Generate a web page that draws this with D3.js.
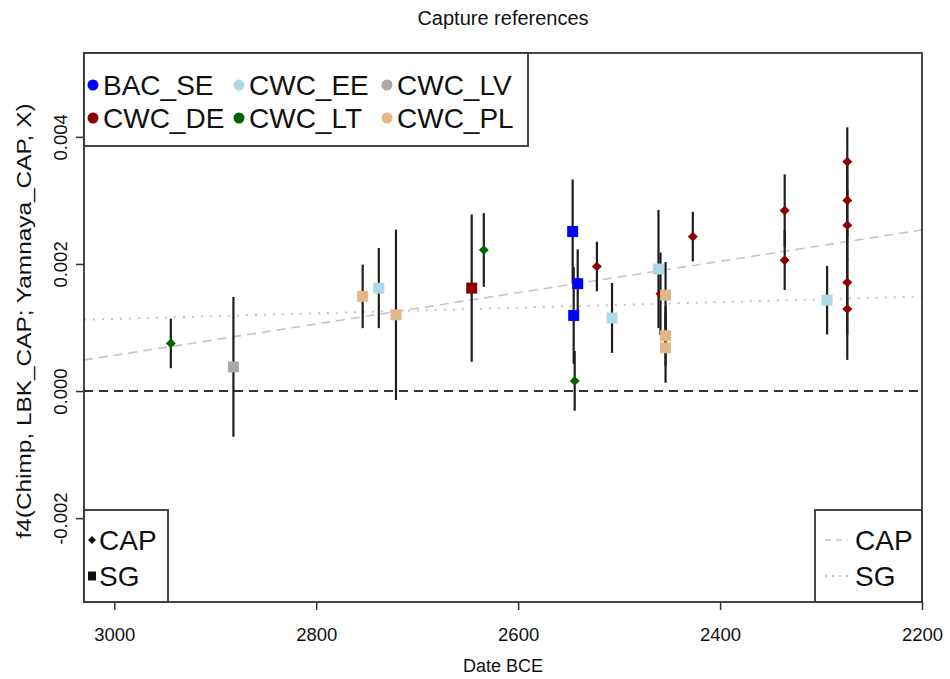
<!DOCTYPE html>
<html>
<head>
<meta charset="utf-8">
<script src="https://cdn.jsdelivr.net/npm/d3@7"></script>
<style>
  body { margin: 0; background: #fff; }
  text { font-family: "Liberation Sans", Arial, sans-serif; fill: #111; }
</style>
</head>
<body>
<div id="root"></div>
<script>
// groups in legend order (R fills the 3 columns top to bottom)
const groups = ["BAC_SE", "CWC_DE", "CWC_EE", "CWC_LT", "CWC_LV", "CWC_PL"];
const groupColors = ["#0000ff", "#8b0000", "#add8e6", "#006400", "#a9a9a9", "#deb887"];

// reference sets: CAP drawn as diamonds, SG as squares
const sets = ["CAP", "SG"];

// one entry per sample
const sampleGroup = [
  "CWC_LT", "CWC_LV", "CWC_PL", "CWC_EE", "CWC_PL", "CWC_DE", "CWC_LT",
  "BAC_SE", "BAC_SE", "BAC_SE", "CWC_LT", "CWC_DE", "CWC_EE", "CWC_EE",
  "CWC_DE", "CWC_PL", "CWC_PL", "CWC_PL", "CWC_DE", "CWC_DE", "CWC_DE",
  "CWC_EE", "CWC_DE", "CWC_DE", "CWC_DE", "CWC_DE", "CWC_DE"
];
const sampleSet = [
  "CAP", "SG", "SG", "SG", "SG", "SG", "CAP",
  "SG", "SG", "SG", "CAP", "CAP", "SG", "SG",
  "CAP", "SG", "SG", "SG", "CAP", "CAP", "CAP",
  "SG", "CAP", "CAP", "CAP", "CAP", "CAP"
];
const sampleDate = [
  2944, 2882, 2754, 2738, 2721, 2646, 2634,
  2546, 2541, 2545, 2544, 2522, 2507, 2461,
  2459, 2454, 2454, 2454, 2427, 2336, 2336,
  2294, 2274, 2274, 2274, 2274, 2274
];
const sampleF4 = [
  0.00075, 0.00038, 0.00149, 0.00162, 0.00120, 0.00162, 0.00222,
  0.00251, 0.00169, 0.00119, 0.00016, 0.00196, 0.00115, 0.00192,
  0.00153, 0.00151, 0.00087, 0.00068, 0.00243, 0.00284, 0.00206,
  0.00143, 0.00361, 0.00300, 0.00261, 0.00171, 0.00129
];
const sampleErr = [
  0.00039, 0.00110, 0.00050, 0.00063, 0.00134, 0.00116, 0.00058,
  0.00082, 0.00054, 0.00076, 0.00047, 0.00039, 0.00055, 0.00093,
  0.00065, 0.00052, 0.00047, 0.00055, 0.00039, 0.00057, 0.00047,
  0.00054, 0.00054, 0.00057, 0.00055, 0.00082, 0.00080
];

// regression of f4 on date, one line per reference set
const fitIntercept = [0.00796, 0.00246];
const fitSlope = [-2.466e-6, -4.42e-7];

// axis ticks
const xTicks = [3000, 2800, 2600, 2400, 2200];
const yTicks = [-0.002, 0, 0.002, 0.004];

const width = 950,
  height = 679,
  margin = { left: 84, top: 53, right: 28, bottom: 77 };

const data = sampleDate.map((d, i) => ({
  date: d,
  f4: sampleF4[i],
  err: sampleErr[i],
  group: sampleGroup[i],
  set: sampleSet[i]
}));

const color = d3.scaleOrdinal().domain(groups).range(groupColors);

const innerW = width - margin.left - margin.right;
const innerH = height - margin.top - margin.bottom;

const xScale = d3.scaleLinear().domain([3030, 2200]).range([0, innerW]);
const yScale = d3.scaleLinear().domain([-0.00332, 0.00532]).range([innerH, 0]);

const svg = d3.select("#root")
  .append("svg")
  .attr("width", width)
  .attr("height", height)
  .attr("viewBox", [0, 0, width, height]);

svg.append("defs").append("clipPath")
  .attr("id", "clip")
  .append("rect")
  .attr("width", innerW)
  .attr("height", innerH);

const g = svg.append("g")
  .attr("transform", `translate(${margin.left}, ${margin.top})`);

// title and axis titles
svg.append("text")
  .attr("x", margin.left + innerW / 2)
  .attr("y", 25)
  .attr("text-anchor", "middle")
  .style("font-size", "20px")
  .text("Capture references");

svg.append("text")
  .attr("x", margin.left + innerW / 2)
  .attr("y", 672)
  .attr("text-anchor", "middle")
  .style("font-size", "18px")
  .text("Date BCE");

// the y title in the picture runs longer than its glyph height suggests
svg.append("text")
  .attr("transform", `translate(31, 321) rotate(-90) scale(1.22, 1)`)
  .attr("text-anchor", "middle")
  .style("font-size", "20px")
  .text("f4(Chimp, LBK_CAP; Yamnaya_CAP, X)");

// axes, R style: ticks outside the box, rotated y labels, plain hyphen minus
const fmtY = (d) => d3.format(".3f")(d).replace("\u2212", "-");

const xAxis = g.append("g")
  .attr("transform", `translate(0, ${innerH})`)
  .call(d3.axisBottom(xScale).tickValues(xTicks).tickFormat(d3.format("d")).tickSize(8));

const yAxis = g.append("g")
  .call(d3.axisLeft(yScale).tickValues(yTicks).tickFormat(fmtY).tickSize(8));

[xAxis, yAxis].forEach((a) => {
  a.select(".domain").remove();
  a.selectAll(".tick line").attr("stroke", "#333").attr("stroke-width", 1.5);
  a.selectAll(".tick text").style("font-size", "18.5px").attr("fill", "#111");
});
xAxis.selectAll(".tick text").attr("dy", null).attr("y", 0)
  .attr("transform", "translate(0, 39)");
yAxis.selectAll(".tick text")
  .attr("x", null).attr("dy", null)
  .attr("text-anchor", "middle")
  .attr("transform", "translate(-17, 0) rotate(-90)");

const plot = g.append("g").attr("clip-path", "url(#clip)");

// zero line
plot.append("line")
  .attr("x1", 0).attr("x2", innerW)
  .attr("y1", yScale(0)).attr("y2", yScale(0))
  .attr("stroke", "#333")
  .attr("stroke-width", 2)
  .attr("stroke-dasharray", "9,6");

// fitted lines
const fits = sets.map((s, i) => ({ set: s, a: fitIntercept[i], b: fitSlope[i] }));
plot.selectAll("line.fit")
  .data(fits)
  .enter()
  .append("line")
  .attr("class", "fit")
  .attr("x1", 0)
  .attr("x2", innerW)
  .attr("y1", (d) => yScale(d.a + d.b * xScale.domain()[0]))
  .attr("y2", (d) => yScale(d.a + d.b * xScale.domain()[1]))
  .attr("stroke", "#c4c4c4")
  .attr("stroke-width", (d) => d.set === "CAP" ? 1.6 : 2)
  .attr("stroke-dasharray", (d) => d.set === "CAP" ? "9,6" : "2,7");

// error bars
plot.selectAll("line.err")
  .data(data)
  .enter()
  .append("line")
  .attr("class", "err")
  .attr("x1", (d) => xScale(d.date))
  .attr("x2", (d) => xScale(d.date))
  .attr("y1", (d) => yScale(d.f4 - d.err))
  .attr("y2", (d) => yScale(d.f4 + d.err))
  .attr("stroke", "#1e1e1e")
  .attr("stroke-width", 2.2);

// markers
const diamond = "M0,-4.8L5,0L0,4.8L-5,0Z";
const square = "M-5.5,-5.5H5.5V5.5H-5.5Z";
plot.selectAll("path.pt")
  .data(data)
  .enter()
  .append("path")
  .attr("class", "pt")
  .attr("d", (d) => d.set === "CAP" ? diamond : square)
  .attr("transform", (d) => `translate(${xScale(d.date)}, ${yScale(d.f4)})`)
  .attr("fill", (d) => color(d.group));

// frame
g.append("rect")
  .attr("width", innerW)
  .attr("height", innerH)
  .attr("fill", "none")
  .attr("stroke", "#333")
  .attr("stroke-width", 1.8);

// legend: groups, top left, 3 columns
const legGroups = g.append("g");
legGroups.append("rect")
  .attr("width", 444).attr("height", 93)
  .attr("fill", "#fff").attr("stroke", "#333").attr("stroke-width", 1.8);
const colX = [9, 155, 303];
const legItem = legGroups.selectAll("g.item")
  .data(groups)
  .enter()
  .append("g")
  .attr("class", "item")
  .attr("transform", (d, i) => `translate(${colX[Math.floor(i / 2)]}, ${32 + (i % 2) * 33})`);
legItem.append("circle").attr("r", 5.5).attr("fill", (d) => color(d));
legItem.append("text")
  .attr("x", 10).attr("y", 10)
  .style("font-size", "28px")
  .text((d) => d);

// legend: marker shapes, bottom left
const legSets = g.append("g").attr("transform", `translate(0, ${innerH - 92})`);
legSets.append("rect")
  .attr("width", 84).attr("height", 92)
  .attr("fill", "#fff").attr("stroke", "#333").attr("stroke-width", 1.8);
const setItem = legSets.selectAll("g.item")
  .data(sets)
  .enter()
  .append("g")
  .attr("class", "item")
  .attr("transform", (d, i) => `translate(8, ${30 + i * 36})`);
setItem.append("path")
  .attr("d", (d) => d === "CAP" ? "M0,-4L4,0L0,4L-4,0Z" : "M-4,-4.5H4V4.5H-4Z")
  .attr("fill", "#111");
setItem.append("text")
  .attr("x", 7).attr("y", 10)
  .style("font-size", "28px")
  .text((d) => d);

// legend: fitted lines, bottom right
const legFits = g.append("g").attr("transform", `translate(${innerW - 107}, ${innerH - 92})`);
legFits.append("rect")
  .attr("width", 107).attr("height", 92)
  .attr("fill", "#fff").attr("stroke", "#333").attr("stroke-width", 1.8);
const fitItem = legFits.selectAll("g.item")
  .data(fits)
  .enter()
  .append("g")
  .attr("class", "item")
  .attr("transform", (d, i) => `translate(0, ${30 + i * 36})`);
fitItem.append("line")
  .attr("x1", 10).attr("x2", 33)
  .attr("stroke", "#c4c4c4")
  .attr("stroke-width", (d) => d.set === "CAP" ? 1.6 : 2)
  .attr("stroke-dasharray", (d) => d.set === "CAP" ? "6,5" : "2,5");
fitItem.append("text")
  .attr("x", 40).attr("y", 10)
  .style("font-size", "28px")
  .text((d) => d.set);
</script>
</body>
</html>
